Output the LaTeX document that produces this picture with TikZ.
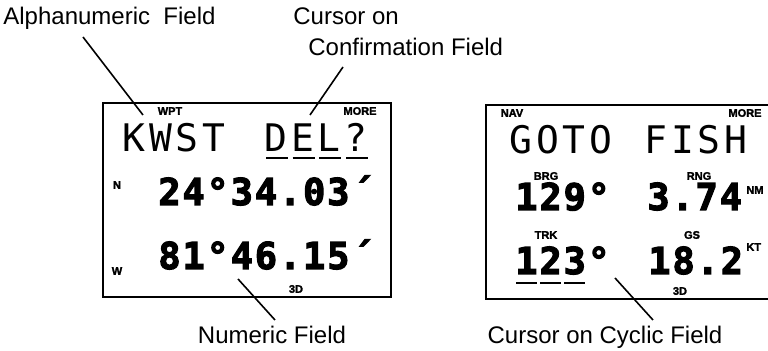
\documentclass[tikz,border=0pt]{standalone}
\usepackage{fontspec}
\setmainfont{Liberation Sans}
\newfontfamily\tagfont{Liberation Sans}[FakeBold=2]
\newfontfamily\lcdthin{DejaVu Sans Mono}[LetterSpace=10]
\newfontfamily\lcdbold{DejaVu Sans Mono}[LetterSpace=5, FakeBold=3]
\usetikzlibrary{positioning}

\begin{document}
\begin{tikzpicture}[
    x=0.5pt, y=-0.5pt,
    callout/.style={font=\fontsize{12}{14}\selectfont, inner sep=0pt, anchor=base west},
    tag/.style={font=\tagfont\bfseries\fontsize{5.5}{6}\selectfont, inner sep=0pt},
    thinrow/.style={font=\lcdthin\fontsize{19}{19}\selectfont, inner sep=0pt, anchor=base west},
    boldrow/.style={font=\lcdbold\bfseries\fontsize{18.5}{18.5}\selectfont, inner sep=0pt, anchor=base west},
    screen/.style={draw, line width=1pt},
    leader/.style={line width=0.8pt},
    cursorbar/.style={line width=1.4pt}
]
    \useasboundingbox (0,0) rectangle (768,351);
    \clip (0,0) rectangle (768,351);

    % left screen: waypoint page
    \draw[screen] (103,103) rectangle (391,297);
    \node[tag] (wpt) at (170,111) {WPT};
    \node[tag] (moreL) at (360,111) {MORE};
    \node[thinrow] (wptname) at (122,152) {KWST};
    \node[thinrow] (confirm) at (264,152) {DEL?};
    \foreach \i in {0,...,3}
        \draw[cursorbar] (264+\i*26.7+2,158) -- ++(22,0);
    \node[tag] (north) at (117,185) {N};
    \node[boldrow] (lat) at (158,205) {24°34.03´};
    \node[tag] (west) at (117,271) {W};
    \node[boldrow] (lon) at (158,269) {81°46.15´};
    \node[tag] (fixL) at (296,289) {3D};

    % right screen: navigation page
    \draw[screen] (486,105) rectangle (800,299);
    \node[tag] (nav) at (512,113) {NAV};
    \node[tag] (moreR) at (745,113) {MORE};
    \node[thinrow] (gotoword) at (509,154) {GOTO};
    \node[thinrow] (dest) at (644,154) {FISH};
    \node[tag] (brgtag) at (546,176) {BRG};
    \node[tag] (rngtag) at (699,176) {RNG};
    \node[boldrow] (brg) at (515,210) {129°};
    \node[boldrow] (rng) at (647,210) {3.74};
    \node[tag, anchor=west] (nm) at (746,190) {NM};
    \node[tag] (trktag) at (546,235) {TRK};
    \node[tag] (gstag) at (692,235) {GS};
    \node[boldrow] (trk) at (515,274) {123°};
    \foreach \i in {0,...,2}
        \draw[cursorbar] (515+\i*24.1+1,283) -- ++(21,0);
    \node[boldrow] (gs) at (648,274) {18.2};
    \node[tag, anchor=west] (kt) at (746,247) {KT};
    \node[tag] (fixR) at (680,291) {3D};

    % callouts
    \node[callout] (alpha) at (3,25) {Alphanumeric\ \ Field};
    \node[callout] (cursor1) at (293,25) {Cursor on};
    \node[callout] (cursor2) at (308,56) {Confirmation Field};
    \node[callout, anchor=base] (numeric) at (272,344) {Numeric Field};
    \node[callout, anchor=base] (cyclic) at (605,344) {Cursor on Cyclic Field};

    \coordinate (alpha-a) at (83,37);
    \coordinate (alpha-b) at (143,115);
    \coordinate (conf-a) at (343,67);
    \coordinate (conf-b) at (310,115);
    \coordinate (num-a) at (275,320);
    \coordinate (num-b) at (238,279);
    \coordinate (cyc-a) at (653,320);
    \coordinate (cyc-b) at (615,278);

    \draw[leader] (alpha-a) -- (alpha-b);
    \draw[leader] (conf-a) -- (conf-b);
    \draw[leader] (num-a) -- (num-b);
    \draw[leader] (cyc-a) -- (cyc-b);
\end{tikzpicture}
\end{document}
